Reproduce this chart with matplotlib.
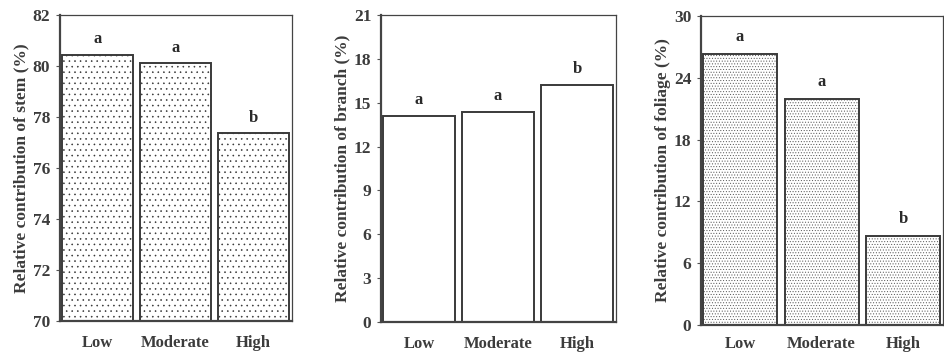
import matplotlib
matplotlib.use("Agg")
import matplotlib.pyplot as plt

plt.rcParams['font.family'] = ['Liberation Serif', 'DejaVu Serif']
plt.rcParams['hatch.linewidth'] = 0.4

categories = ['Low', 'Moderate', 'High']
stem = [80.45, 80.1, 77.36]
branch = [14.11, 14.34, 16.21]
foliage = [26.35, 21.99, 8.63]
stem_letters = ['a', 'a', 'b']
branch_letters = ['a', 'a', 'b']
foliage_letters = ['a', 'a', 'b']

txt = '#3c3c3c'
edge = '#3a3a3a'

fig = plt.figure(figsize=(9.44, 3.55), dpi=100)
W, H = 944.0, 355.0

# (left, right, top, bottom) in pixels
boxes = [(60, 292, 15, 321), (381, 616, 15, 322), (701, 943, 16, 325)]
panels = [
    (stem, stem_letters, (70, 82), range(70, 83, 2), 'Relative contribution of stem (%)', '...', '#333333'),
    (branch, branch_letters, (0, 21), range(0, 22, 3), 'Relative contribution of branch (%)', None, None),
    (foliage, foliage_letters, (0, 30), range(0, 31, 6), 'Relative contribution of foliage (%)', '......', '#555555'),
]
offsets = [0.3, 0.55, 0.85]
xpads = [10, 10, 8]

for (l, r, t, b), (vals, letters, ylim, ticks, label, hatch, hcol), off, xpad in zip(boxes, panels, offsets, xpads):
    ax = fig.add_axes([l / W, 1 - b / H, (r - l) / W, (b - t) / H])
    x = range(len(categories))
    bars = ax.bar(x, [v - ylim[0] for v in vals], bottom=ylim[0], width=0.91,
                  color='white', edgecolor=edge, linewidth=1.4, hatch=hatch)
    if hatch:
        for bar in bars:
            bar._hatch_color = matplotlib.colors.to_rgba(hcol)
    ax.set_xlim(-0.48, 2.49)
    ax.set_ylim(*ylim)
    ax.set_yticks(list(ticks))
    ax.set_xticks(list(x))
    ax.set_xticklabels(categories)
    ax.tick_params(axis='x', length=0, pad=xpad, labelsize=12, labelcolor=txt)
    ax.tick_params(axis='y', length=3, width=0.8, direction='out', labelsize=12.5,
                   labelcolor=txt, color='#555555', pad=4)
    for lab in ax.get_xticklabels() + ax.get_yticklabels():
        lab.set_fontweight('bold')
    for s in ax.spines.values():
        s.set_color('#444444')
        s.set_linewidth(0.9)
    ax.spines['left'].set_linewidth(1.6)
    ax.spines['bottom'].set_linewidth(1.6)
    ax.set_ylabel(label, fontsize=12.5, fontweight='bold', color=txt, labelpad=2)
    for xi, v, letter in zip(x, vals, letters):
        ax.text(xi, v + off, letter, ha='center', va='bottom', fontsize=12,
                fontweight='bold', color='#2a2a2a')

fig.savefig('out.png', dpi=100)
